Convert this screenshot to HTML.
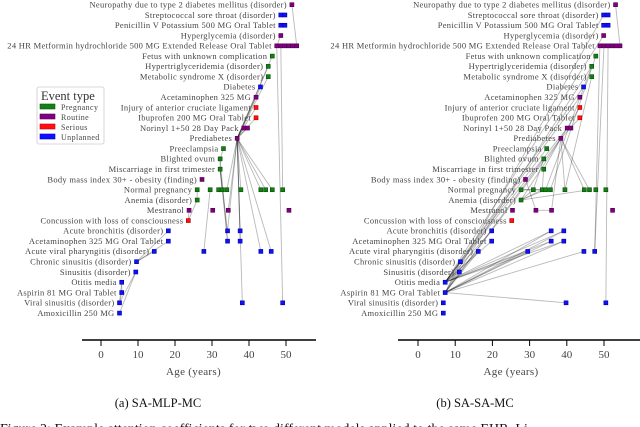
<!DOCTYPE html>
<html><head><meta charset="utf-8">
<style>
html,body{margin:0;padding:0;background:#fff;width:640px;height:427px;overflow:hidden}
svg{display:block}
text{font-family:"Liberation Serif",serif}
</style></head>
<body>
<svg id="chart" width="640" height="427" viewBox="0 0 640 427">
<g id="panelA"></g>
<g id="panelB"></g>
<g>
<rect x="37" y="87" width="67" height="57" rx="2" fill="#fff" stroke="#ccc" stroke-width="0.8"/>
<text x="41" y="100" font-size="12.5" fill="#333">Event type</text>
<g><rect x="40" y="104" width="15" height="5" fill="#128012" stroke="#0a5a0a" stroke-width="0.6"/><text x="61" y="110" font-size="8" letter-spacing="0.4" fill="#444">Pregnancy</text></g>
<g><rect x="40" y="114" width="15" height="5" fill="#800080" stroke="#5a005a" stroke-width="0.6"/><text x="61" y="120" font-size="8" letter-spacing="0.4" fill="#444">Routine</text></g>
<g><rect x="40" y="124" width="15" height="5" fill="#ff1010" stroke="#c00" stroke-width="0.6"/><text x="61" y="130" font-size="8" letter-spacing="0.4" fill="#444">Serious</text></g>
<g><rect x="40" y="134" width="15" height="5" fill="#1010ff" stroke="#00c" stroke-width="0.6"/><text x="61" y="140" font-size="8" letter-spacing="0.4" fill="#444">Unplanned</text></g>
</g>
<text x="158" y="407" font-size="12.5" text-anchor="middle" fill="#111">(a) SA-MLP-MC</text>
<text x="475" y="407" font-size="12.5" text-anchor="middle" fill="#111">(b) SA-SA-MC</text>
<text x="0" y="433" font-size="14" fill="#111">Figure 2: Example attention coefficients for two different models applied to the same EHR. Li</text>
</svg>
<script>
const labels = ["Neuropathy due to type 2 diabetes mellitus (disorder)","Streptococcal sore throat (disorder)","Penicillin V Potassium 500 MG Oral Tablet","Hyperglycemia (disorder)","24 HR Metformin hydrochloride 500 MG Extended Release Oral Tablet","Fetus with unknown complication","Hypertriglyceridemia (disorder)","Metabolic syndrome X (disorder)","Diabetes","Acetaminophen 325 MG","Injury of anterior cruciate ligament","Ibuprofen 200 MG Oral Tablet","Norinyl 1+50 28 Day Pack","Prediabetes","Preeclampsia","Blighted ovum","Miscarriage in first trimester","Body mass index 30+ - obesity (finding)","Normal pregnancy","Anemia (disorder)","Mestranol","Concussion with loss of consciousness","Acute bronchitis (disorder)","Acetaminophen 325 MG Oral Tablet","Acute viral pharyngitis (disorder)","Chronic sinusitis (disorder)","Sinusitis (disorder)","Otitis media","Aspirin 81 MG Oral Tablet","Viral sinusitis (disorder)","Amoxicillin 250 MG"];
const rowTypes = ["R","U","U","R","R","P","P","P","U","R","S","S","R","R","P","P","P","R","P","P","R","S","U","U","U","U","U","U","U","U","U"];
const ticks = [0,10,20,30,40,50];
const agesA = [[51.6],[48.6,49.7],[48.6,49.7],[48.6],[47.5,48.6,49.6,50.7,51.8,52.9],[46.3],[45.2],[45.2],[43.1],[41.9],[41.9],[41.9],[38.6,39.6],[36.8],[33.1],[32.2],[32.2],[27.3],[26.0,29.5,31.8,32.7,34.0,37.8,43.2,44.5,46.3,49.1],[26.0],[23.8,30.2,34.4,50.8],[23.6],[18.2,34.2,37.6],[18.2,34.2,37.6],[14.4,27.8,43.2,46.0],[9.6],[9.4],[5.6],[5.6],[5.0,38.2,49.1],[5.0]];
const agesB = [[53.1],[49.9,51.1],[49.9,51.1],[49.9],[48.9,50.0,51.1,52.2,53.2,54.3],[47.8],[46.7],[46.7],[44.5],[43.5],[43.5],[43.5],[40.1,41.1],[38.4],[34.6],[33.8],[33.8],[28.9],[27.7,31.0,33.4,34.3,35.6,39.5,44.7,46.1,47.8,50.5],[27.7],[25.4,31.7,35.9,52.3],[25.2],[19.8,35.8,39.2],[19.8,35.8,39.2],[16.2,29.5,44.6,47.5],[11.4],[11.1],[7.3],[7.3],[6.8,39.8,50.5],[6.8]];
// edges: [row, idx, row, idx]
const edgesA = [[13,0,12,0],[13,0,12,1],[13,0,11,0],[13,0,10,0],[13,0,9,0],[13,0,8,0],[13,0,7,0],[13,0,6,0],[13,0,5,0],[13,0,18,5],[13,0,18,6],[13,0,18,7],[13,0,18,8],[13,0,22,2],[13,0,23,2],[13,0,24,2],[13,0,24,3],[13,0,29,1],[13,0,20,2],[13,0,22,1],[13,0,18,4],[14,0,15,0],[15,0,16,0],[16,0,22,1],[16,0,23,1],[15,0,23,1],[16,0,18,3],[4,0,29,2],[4,1,18,9],[0,0,4,5],[3,0,4,0],[18,0,19,0],[19,0,21,0],[20,0,21,0],[18,1,24,1],[22,0,25,0],[23,0,25,0],[24,0,25,0],[26,0,29,0],[26,0,30,0],[27,0,28,0],[28,0,29,0],[27,0,29,0]];
const edgesB = [[28,0,22,1],[28,0,22,2],[28,0,23,1],[28,0,23,2],[28,0,24,1],[28,0,24,2],[28,0,29,1],[28,0,24,0],[27,0,22,1],[27,0,22,2],[27,0,23,1],[27,0,23,2],[27,0,24,1],[27,0,24,0],[27,0,25,0],[27,0,26,0],[28,0,25,0],[27,0,8,0],[27,0,9,0],[28,0,6,0],[27,0,3,0],[28,0,1,0],[27,0,12,0],[28,0,13,0],[27,0,14,0],[28,0,15,0],[27,0,22,0],[27,0,23,0],[13,0,18,5],[13,0,18,6],[13,0,18,7],[13,0,16,0],[13,0,19,0],[13,0,20,2],[13,0,11,0],[13,0,10,0],[19,0,18,2],[19,0,18,3],[19,0,18,1],[19,0,18,7],[18,0,18,3],[18,0,18,4],[16,0,18,2],[15,0,18,1],[4,0,24,3],[4,1,24,3],[4,2,29,2],[0,0,4,5],[20,1,20,2],[17,0,20,1],[5,0,18,4],[6,0,18,3],[7,0,18,5]];
const colors = {P:"#128012",R:"#800080",S:"#ff1010",U:"#1010ff"};
const strokes = {P:"#084d08",R:"#4d004d",S:"#b00000",U:"#0000a0"};
const NS = "http://www.w3.org/2000/svg";
function rowY(r){return 4.7 + r*10.28;}
function mk(tag, attrs){const e=document.createElementNS(NS,tag);for(const k in attrs)e.setAttribute(k,attrs[k]);return e;}
function drawPanel(gid, ages, edges, x0, x50, axL, axR){
  const g=document.getElementById(gid);
  const xs=a=>x0+(x50-x0)*a/50;
  const eg=mk("g",{});
  
  
  g.appendChild(eg);
  edges.forEach(e=>{
    const l=mk("line",{x1:xs(ages[e[0]][e[1]]),y1:rowY(e[0]),x2:xs(ages[e[2]][e[3]]),y2:rowY(e[2]),stroke:"rgba(0,0,0,0.28)","stroke-width":0.9});
    
    
    eg.appendChild(l);
  });
  labels.forEach((lab,r)=>{
    const y=rowY(r);
    const mn=Math.min(...ages[r]);
    const t=mk("text",{x:xs(mn)-5,y:y+2.8,"font-size":8.5,"letter-spacing":0.3,"text-anchor":"end",fill:"#444"});
    t.textContent=lab;
    
    
    g.appendChild(t);
    ages[r].forEach(a=>{
      const ty=rowTypes[r];
      const m=mk("rect",{x:xs(a)-2,y:y-2,width:4,height:4,fill:colors[ty],stroke:strokes[ty],"stroke-width":0.6});
      
      
      g.appendChild(m);
    });
  });
  const ax=mk("line",{x1:axL,y1:340,x2:axR,y2:340,stroke:"#000","stroke-width":1.6});
  
  
  g.appendChild(ax);
  ticks.forEach(v=>{
    const tk=mk("line",{x1:xs(v),y1:340,x2:xs(v),y2:346,stroke:"#000","stroke-width":1});
    
    
    g.appendChild(tk);
    const tl=mk("text",{x:xs(v),y:358,"font-size":11,"text-anchor":"middle",fill:"#444"});
    tl.textContent=v;
    
    
    g.appendChild(tl);
  });
  const at=mk("text",{x:xs(25),y:375,"font-size":11,"letter-spacing":0.3,"text-anchor":"middle",fill:"#444"});
  at.textContent="Age (years)";
  
  
  g.appendChild(at);
}
drawPanel("panelA",agesA,edgesA,101,286,82,316);
drawPanel("panelB",agesB,edgesB,418,604,398,640);
</script>
</body></html>
